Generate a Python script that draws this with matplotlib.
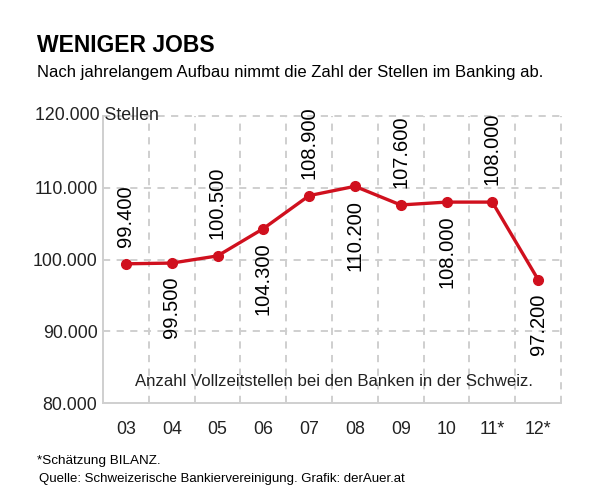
import matplotlib
matplotlib.use("Agg")
import matplotlib.pyplot as plt
import numpy as np

years = ["03", "04", "05", "06", "07", "08", "09", "10", "11*", "12*"]
values = [99400, 99500, 100500, 104300, 108900, 110200, 107600, 108000, 108000, 97200]
labels = ["99.400", "99.500", "100.500", "104.300", "108.900", "110.200",
          "107.600", "108.000", "108.000", "97.200"]
yticks = [80000, 90000, 100000, 110000, 120000]
ytick_labels = ["80.000", "90.000", "100.000", "110.000", ""]

plt.rcParams['font.family'] = ['Liberation Sans', 'DejaVu Sans']

RED = "#d0101e"
GRID = "#cfcfcf"
TXT = "#222222"

fig = plt.figure(figsize=(6.0, 5.01), dpi=100)
ax = fig.add_axes([103/600, 1-403/501, (561-103)/600, (403-116)/501])

x = np.arange(len(years))
ax.set_xlim(-0.5, len(years)-0.5)
ax.set_ylim(80000, 120000)

# grid
for xv in np.arange(0.5, len(years), 1.0):
    ax.axvline(xv, color=GRID, lw=1.4, ls=(0, (3.7, 3.3)), zorder=1, clip_on=False)
for yv in yticks[1:]:
    ax.axhline(yv, color=GRID, lw=1.4, ls=(0, (3.7, 3.3)), zorder=1, clip_on=False)

ax.plot(x, values, color=RED, lw=2.4, marker='o', ms=7, zorder=3)

for i, (v, lab) in enumerate(zip(values, labels)):
    if i % 2 == 0:
        ax.annotate(lab, (i, v), xytext=(0, 12), textcoords='offset points',
                    rotation=90, ha='center', va='bottom', fontsize=14.5, color='black')
    else:
        ax.annotate(lab, (i, v), xytext=(0, -10), textcoords='offset points',
                    rotation=90, ha='center', va='top', fontsize=14.5, color='black')

ax.text(4.55, 83000, "Anzahl Vollzeitstellen bei den Banken in der Schweiz.",
        ha='center', va='center', fontsize=12.1, color=TXT)

for s in ['top', 'right']:
    ax.spines[s].set_visible(False)
for s in ['left', 'bottom']:
    ax.spines[s].set_color(GRID)
    ax.spines[s].set_linewidth(1.4)

ax.set_xticks(x)
ax.set_xticklabels(years, fontsize=12.8, color=TXT)
ax.set_yticks(yticks)
ax.set_yticklabels(ytick_labels, fontsize=12.8, color=TXT)
ax.tick_params(length=0, pad=4)
ax.tick_params(axis='x', pad=13)

fig.text(35/600, 1-115/501, "120.000 Stellen", ha='left', va='center', fontsize=12.8, color=TXT)

fig.text(37/600, 1-45/501, "WENIGER JOBS", ha='left', va='center', fontsize=16.5,
         fontweight='bold', color='black')
fig.text(37/600, 1-72/501, "Nach jahrelangem Aufbau nimmt die Zahl der Stellen im Banking ab.",
         ha='left', va='center', fontsize=12, color='black')
fig.text(37/600, 1-461/501, "*Schätzung BILANZ.", ha='left', va='center', fontsize=9.7, color='black')
fig.text(39/600, 1-479/501, "Quelle: Schweizerische Bankiervereinigung. Grafik: derAuer.at",
         ha='left', va='center', fontsize=9.5, color='black')

fig.savefig("out.png", dpi=100)
